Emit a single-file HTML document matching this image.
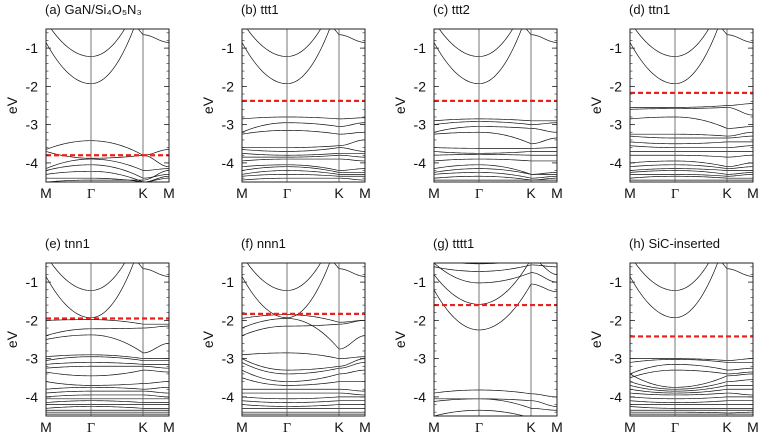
<!DOCTYPE html>
<html><head><meta charset="utf-8">
<style>
html,body{margin:0;padding:0;background:#fff;}
svg{display:block;font-family:"Liberation Sans",Arial,sans-serif;}
</style></head>
<body>
<svg id="fig" width="760" height="437" viewBox="0 0 760 437"></svg>
<script>
// ---- data ----
const panelTitles = ["(a) GaN/Si\u2084O\u2085N\u2083","(b) ttt1","(c) ttt2","(d) ttn1","(e) tnn1","(f) nnn1","(g) tttt1","(h) SiC-inserted"];
const fermiLevels = [-3.8,-2.38,-2.38,-2.17,-1.95,-1.83,-1.6,-2.42];
const yTicks = [-1,-2,-3,-4];
const kLabels = ["M","\u0393","K","M"];
const kPos = [0,45,97,123];
const condCommon = [[-0.85,-1.93,0.2,0.2],[-0.3,-1.22,0.5,0.5],[0.2,0.2,-0.65,-0.85],[-0.5,-0.45,-0.45,-0.5]];
const condG = [[-1.2,-2.25,-1.05,-1.25],[-0.8,-1.58,-0.4,-0.8],[-0.5,-1.02,-0.75,-1.0],[-0.6,-0.72,-0.55,-0.6],[-0.4,-0.52,-0.4,-0.5]];
const valA = [[-3.65,-3.42,-3.8,-3.65],[-3.7,-3.88,-3.8,-4.1],[-4.15,-3.9,-4.2,-4.15],[-4.2,-4.05,-4.4,-4.3],[-4.3,-4.22,-4.5,-4.35],[-4.4,-4.4,-4.5,-4.4],[-4.5,-4.45,-4.45,-4.2]];
const valB = [[-2.85,-2.8,-2.85,-2.82],[-3.2,-2.95,-3.05,-2.95],[-3.25,-3.15,-3.25,-3.2],[-3.6,-3.6,-3.55,-3.4],[-3.65,-3.7,-3.6,-3.7],[-3.75,-3.8,-3.75,-3.75],[-3.85,-3.85,-3.8,-3.85],[-3.95,-3.9,-3.9,-3.95],[-4.1,-4.05,-4.2,-4.15],[-4.2,-4.1,-4.25,-4.25],[-4.3,-4.2,-4.3,-4.3],[-4.35,-4.3,-4.35,-4.35],[-4.45,-4.4,-4.4,-4.45]];
const valC = [[-2.9,-2.85,-2.9,-2.9],[-3.0,-2.92,-3.0,-2.95],[-3.2,-3.05,-3.1,-3.2],[-3.25,-3.2,-3.5,-3.35],[-3.6,-3.62,-3.62,-3.6],[-3.7,-3.75,-3.7,-3.7],[-3.8,-3.78,-3.8,-3.8],[-3.95,-3.9,-3.95,-3.95],[-4.15,-4.05,-4.3,-4.25],[-4.25,-4.15,-4.3,-4.3],[-4.3,-4.25,-4.4,-4.35],[-4.4,-4.35,-4.45,-4.4],[-4.45,-4.45,-4.45,-4.45]];
const valD = [[-2.55,-2.55,-2.5,-2.45],[-2.6,-2.58,-2.55,-2.75],[-2.85,-2.8,-3.1,-3.05],[-3.25,-3.25,-3.3,-3.2],[-3.3,-3.35,-3.35,-3.3],[-3.45,-3.5,-3.45,-3.45],[-3.55,-3.6,-3.6,-3.55],[-3.7,-3.7,-3.7,-3.7],[-3.8,-3.8,-3.85,-3.8],[-4.0,-3.95,-4.1,-4.0],[-4.1,-4.05,-4.15,-4.1],[-4.2,-4.15,-4.2,-4.2],[-4.25,-4.2,-4.3,-4.25],[-4.3,-4.3,-4.35,-4.3],[-4.4,-4.35,-4.4,-4.4],[-4.45,-4.45,-4.45,-4.45]];
const valE = [[-2.0,-1.98,-2.1,-2.1],[-2.4,-2.22,-2.2,-2.15],[-2.5,-2.38,-2.85,-2.6],[-2.95,-2.9,-3.0,-3.0],[-3.05,-2.95,-3.05,-3.05],[-3.15,-3.1,-3.15,-3.15],[-3.25,-3.2,-3.2,-3.25],[-3.35,-3.45,-3.3,-3.35],[-3.6,-3.7,-3.65,-3.6],[-3.8,-3.75,-3.8,-3.75],[-3.9,-3.85,-3.85,-3.9],[-4.0,-3.95,-3.95,-4.0],[-4.05,-4.05,-4.05,-4.05],[-4.15,-4.1,-4.15,-4.15],[-4.2,-4.2,-4.2,-4.2],[-4.3,-4.25,-4.3,-4.3],[-4.35,-4.35,-4.35,-4.35],[-4.4,-4.4,-4.4,-4.4],[-4.45,-4.45,-4.45,-4.45]];
const valF = [[-1.95,-1.85,-2.05,-2.0],[-2.4,-2.15,-2.1,-2.0],[-2.2,-1.95,-2.75,-2.4],[-2.9,-2.85,-3.0,-2.95],[-3.0,-3.3,-3.2,-3.0],[-3.1,-3.4,-3.25,-3.1],[-3.3,-3.6,-3.4,-3.3],[-3.5,-3.7,-3.6,-3.6],[-3.8,-3.8,-3.8,-3.85],[-3.9,-3.9,-3.9,-3.95],[-4.0,-4.05,-4.0,-4.0],[-4.1,-4.15,-4.1,-4.1],[-4.2,-4.25,-4.2,-4.2],[-4.3,-4.3,-4.3,-4.3],[-4.4,-4.4,-4.4,-4.4],[-4.45,-4.45,-4.45,-4.45]];
const valG = [[-3.9,-3.82,-3.92,-4.0],[-4.05,-4.05,-4.1,-4.25],[-4.12,-4.05,-4.3,-4.35],[-4.5,-4.35,-4.55,-4.5]];
const valH = [[-3.0,-3.0,-3.05,-3.0],[-3.1,-3.02,-3.1,-3.1],[-3.4,-3.15,-3.3,-3.25],[-3.5,-3.3,-3.4,-3.35],[-3.4,-3.75,-3.45,-3.4],[-3.6,-3.8,-3.6,-3.55],[-3.7,-3.85,-3.7,-3.7],[-3.8,-3.9,-3.8,-3.8],[-3.9,-3.95,-3.9,-3.95],[-4.0,-4.05,-4.0,-4.0],[-4.1,-4.15,-4.1,-4.1],[-4.2,-4.2,-4.2,-4.2],[-4.25,-4.3,-4.3,-4.3],[-4.35,-4.35,-4.35,-4.35],[-4.4,-4.4,-4.42,-4.4],[-4.45,-4.45,-4.45,-4.45]];
const panelBands = [
  condCommon.concat(valA), condCommon.concat(valB), condCommon.concat(valC), condCommon.concat(valD),
  condCommon.concat(valE), condCommon.concat(valF), condG.concat(valG), condCommon.concat(valH)];

// ---- layout ----
const NS="http://www.w3.org/2000/svg";
const svg=document.getElementById('fig');
const lefts=[46,242,434,630];
const tops=[29,263];
const W=123,H=153,yMax=-0.5,yMin=-4.5;
function mk(tag,attrs,parent){const e=document.createElementNS(NS,tag);for(const k in attrs)e.setAttribute(k,attrs[k]);(parent||svg).appendChild(e);return e;}

panelBands.forEach((bands,p)=>{
  const x0=lefts[p%4], y0=tops[Math.floor(p/4)];
  const g=mk('g',{});
  
  
  const ys=v=>y0+(yMax-v)/(yMax-yMin)*H;
  const xs=k=>x0+k;
  const cid='clip'+p;
  const cp=mk('clipPath',{id:cid},g);mk('rect',{x:x0,y:y0,width:W,height:H},cp);
  const bg=mk('g',{'clip-path':'url(#'+cid+')'},g);
  bands.forEach((b,i)=>{
    let pts=[];
    for(let s=0;s<=3;s++){
      const xa=kPos[s],xb=kPos[s+1]; if(xb===undefined)break;
      const n=24;
      for(let j=0;j<=n;j++){
        const t=j/n; let e;
        if(s===0) e=b[1]+(b[0]-b[1])*(1-t)*(1-t);
        else if(s===1) e=b[1]+(b[2]-b[1])*t*t;
        else e=b[2]+(b[3]-b[2])*(1-Math.cos(Math.PI*t))/2;
        pts.push(xs(xa+(xb-xa)*t).toFixed(2)+','+ys(e).toFixed(2));
      }
    }
    const pl=mk('polyline',{points:pts.join(' '),fill:'none',stroke:'#111','stroke-width':0.7},bg);
    
    
  });
  [45,97].forEach(k=>{const l=mk('line',{x1:xs(k),x2:xs(k),y1:y0,y2:y0+H,stroke:'#555','stroke-width':0.8},g);
    });
  const f=mk('line',{x1:x0,x2:x0+W,y1:ys(fermiLevels[p]),y2:ys(fermiLevels[p]),stroke:'#e8221c','stroke-width':2.2,'stroke-dasharray':'5,3'},g);
  
  const fr=mk('rect',{x:x0,y:y0,width:W,height:H,fill:'none',stroke:'#222','stroke-width':1},g);
  
  // minor ticks
  for(let v=-0.6;v>-4.5;v-=0.2){const yy=ys(v);mk('line',{x1:x0,x2:x0+2.5,y1:yy,y2:yy,stroke:'#222','stroke-width':0.6},g);mk('line',{x1:x0+W-2.5,x2:x0+W,y1:yy,y2:yy,stroke:'#222','stroke-width':0.6},g);}
  yTicks.forEach(v=>{const yy=ys(v);
    mk('line',{x1:x0,x2:x0+5,y1:yy,y2:yy,stroke:'#222','stroke-width':0.8},g);
    mk('line',{x1:x0+W-5,x2:x0+W,y1:yy,y2:yy,stroke:'#222','stroke-width':0.8},g);
    const t=mk('text',{x:x0-8,y:yy+5,'text-anchor':'end','font-size':14,fill:'#111'},g);t.textContent=String(v);
    });
  kLabels.forEach((lab,i)=>{const t=mk('text',{x:xs(kPos[i]),y:y0+H+16,'text-anchor':'middle','font-size':14,fill:'#111','font-family':lab==='\u0393'?'Liberation Serif, serif':'Liberation Sans, sans-serif'},g);t.textContent=lab;
    });
  const yl=mk('text',{x:0,y:0,'text-anchor':'middle','font-size':14,fill:'#111',transform:'translate('+(x0-29)+','+(y0+H/2)+') rotate(-90)'},g);yl.textContent='eV';
  
  const tt=mk('text',{x:x0-1,y:y0-15,'font-size':13,fill:'#111'},g);tt.textContent=panelTitles[p];
  
});
</script>
</body></html>
